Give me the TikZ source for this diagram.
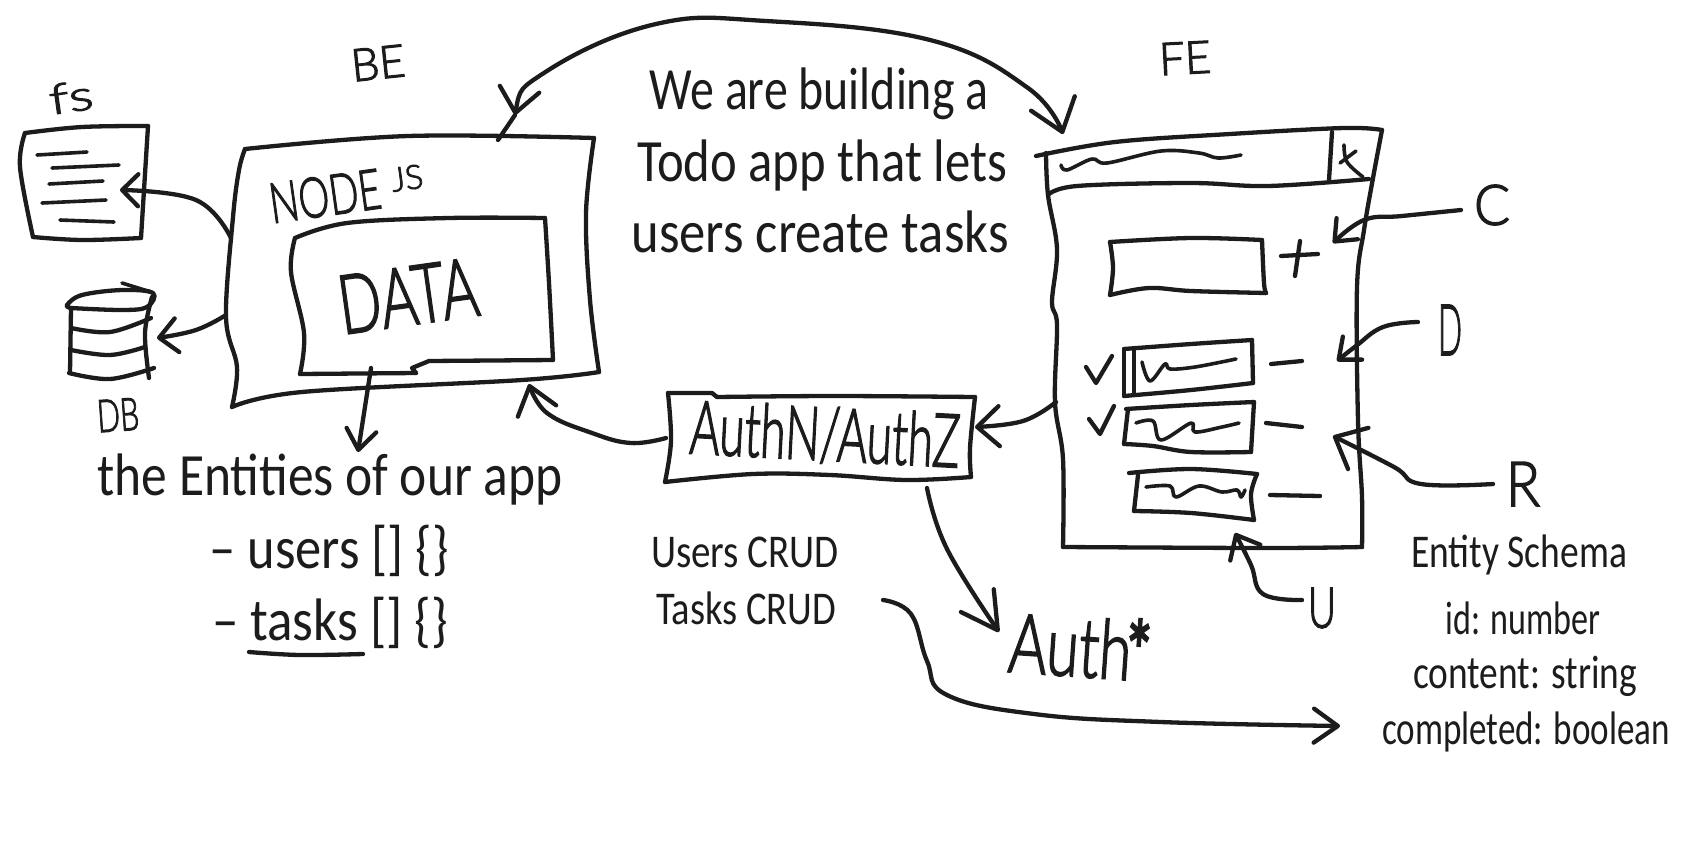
\documentclass[tikz,border=0pt]{standalone}
\usepackage{graphicx}
\usepackage{fontspec}
\setmainfont{Carlito}
\newfontfamily\handf{Lato}[UprightFont={* Light},FakeBold=2.4]
\usetikzlibrary{arrows.meta}
\definecolor{ink}{HTML}{1C1C1C}
\newcommand{\tw}[3]{\resizebox{#1pt}{\height}{\fontsize{#2}{#2}\selectfont #3}}
\newcommand{\hw}[3]{\resizebox{#1pt}{#2pt}{\handf\fontsize{60}{60}\selectfont #3}}
\tikzset{
  ink/.style={draw=ink,line width=4.3pt,line cap=round,line join=round},
  thinink/.style={draw=ink,line width=3.6pt,line cap=round,line join=round},
  conn/.style 2 args={ink,-{Straight Barb[length=#1pt,width=#2pt,round]}},
  twoway/.style={ink,{Straight Barb[length=24pt,width=40pt,round]}-{Straight Barb[length=30pt,width=46pt,round]}},
  typed/.style={text=ink,inner sep=0pt,anchor=base},
  hand/.style={text=ink,inner sep=0pt,anchor=center},
}
\begin{document}
\begin{tikzpicture}[x=1pt,y=-1pt]
\useasboundingbox (0,0) rectangle (1707,863);
\def\sm{plot[smooth,tension=.6] coordinates}
% ---- named connector ends
\coordinate (beTop) at (498,140);
\coordinate (arcL) at (515,115);
\coordinate (arcR) at (1063,134);
\coordinate (beLeftA) at (231,238);
\coordinate (fsTip) at (120,190);
\coordinate (beLeftB) at (226,315);
\coordinate (dbTip) at (157,338);
\coordinate (dataBot) at (371,368);
\coordinate (entTip) at (358,452);
\coordinate (feLeft) at (1056,402);
\coordinate (authR) at (975,427);
\coordinate (authL) at (666,438);
\coordinate (beBot) at (529,384);
\coordinate (authB) at (927,488);
\coordinate (authStarTip) at (999,632);
\coordinate (crudEnd) at (883,600);
\coordinate (schemaTip) at (1340,726);
\coordinate (cTail) at (1461,210);
\coordinate (cTip) at (1333,243);
\coordinate (dTail) at (1418,322);
\coordinate (dTip) at (1337,361);
\coordinate (rTail) at (1493,484);
\coordinate (rTip) at (1333,436);
\coordinate (uTail) at (1302,600);
\coordinate (uTip) at (1235,533);
% ---- BE box
\draw[ink] \sm{(245,149) (408,136) (594,138)};
\draw[ink] \sm{(594,138) (586,213) (590,300) (599,372)};
\draw[ink] \sm{(599,372) (522,380) (302,392) (232,407)};
\draw[ink] \sm{(232,407) (237,367) (226,317) (233,217) (239,170) (245,149)};
% DATA box
\draw[ink] \sm{(295,238) (347,223) (449,218) (545,218)};
\draw[ink] \sm{(545,218) (549,283) (553,360)};
\draw[ink] \sm{(553,360) (429,361)} -- (412,368) -- (416,373);
\draw[ink] \sm{(416,373) (300,374)};
\draw[ink] \sm{(300,374) (304,333) (291,272) (295,238)};
% FS doc
\draw[ink] \sm{(25,133) (82,127) (148,126)};
\draw[ink] \sm{(148,126) (141,238)};
\draw[ink] \sm{(141,238) (82,240) (33,237)};
\draw[ink] \sm{(33,237) (20,167) (25,133)};
\draw[thinink] (37,155) -- (87,152) (52,168) -- (119,165) (49,184) -- (103,181) (42,203) -- (106,200) (60,220) -- (114,222);
% DB
\draw[ink] \sm{(71,308) (67,305) (82,295) (122,290) (153,293) (147,307) (122,310) (71,308)};
\draw[thinink] (122,283) -- (151,292);
\draw[ink] (71,308) -- (70,373);
\draw[ink] \sm{(152,297) (145,333) (149,378)};
\draw[ink] \sm{(71,328) (110,332) (151,318)};
\draw[ink] \sm{(71,350) (110,355) (145,347)};
\draw[ink] \sm{(69,373) (110,379) (154,368)};
% FE window
\draw[ink] \sm{(1036,156) (1115,142) (1230,134) (1344,128) (1382,130)};
\draw[ink] \sm{(1382,130) (1373,178) (1364,230) (1357,287) (1358,421) (1362,497) (1362,547)};
\draw[ink] \sm{(1362,547) (1268,548) (1063,547)};
\draw[ink] \sm{(1063,547) (1063,459) (1055,402) (1057,325) (1052,302) (1057,249) (1048,195) (1046,153)};
\draw[ink] \sm{(1048,195) (1077,186) (1191,183) (1268,186) (1369,179)};
\draw[ink] (1332,132) -- (1329,180);
\draw[thinink] \sm{(1344,145) (1347,162) (1363,177)};
\draw[thinink] (1340,163) -- (1356,151);
\draw[thinink] \sm{(1061,165) (1067,170) (1092,159) (1107,163) (1161,151) (1199,153) (1218,158) (1241,155)};
% input
\draw[ink] \sm{(1110,242) (1191,238) (1262,240)};
\draw[ink] \sm{(1262,240) (1264,283) (1266,293)};
\draw[ink] \sm{(1266,293) (1191,291) (1149,288) (1110,295)};
\draw[ink] \sm{(1110,295) (1113,268) (1110,242)};
\draw[ink] (1281,256) -- (1318,254) (1300,241) -- (1295,276);
% task 1
\draw[ink] \sm{(1124,349) (1191,344) (1252,340)};
\draw[ink] (1252,340) -- (1253,383);
\draw[ink] \sm{(1253,383) (1191,390) (1124,396)};
\draw[ink] (1124,396) -- (1124,349);
\draw[ink] (1134,350) -- (1134,394);
\draw[thinink] \sm{(1142,362) (1150,381) (1165,364) (1170,369) (1195,367) (1236,359)};
\draw[ink] \sm{(1086,367) (1096,383)} -- (1112,356);
\draw[ink] (1271,364) -- (1302,361);
% task 2
\draw[ink] \sm{(1126,409) (1191,405) (1254,402)};
\draw[ink] (1254,402) -- (1251,452);
\draw[ink] \sm{(1251,452) (1191,452) (1153,446) (1124,444)};
\draw[ink] (1124,444) -- (1128,409);
\draw[thinink] \sm{(1136,423) (1153,421) (1161,440) (1191,423) (1195,432) (1222,427) (1239,423)};
\draw[ink] \sm{(1089,419) (1100,434)} -- (1114,406);
\draw[ink] (1266,423) -- (1302,427);
% task 3
\draw[ink] \sm{(1129,473) (1191,469) (1257,474)};
\draw[ink] \sm{(1257,474) (1251,494) (1254,520)};
\draw[ink] \sm{(1254,520) (1191,513) (1134,511)};
\draw[ink] (1134,511) -- (1138,475);
\draw[thinink] \sm{(1146,487) (1170,486) (1176,497) (1199,486) (1222,492) (1237,490) (1241,497) (1245,490)};
\draw[ink] (1270,495) -- (1320,496);
% Auth box
\draw[ink] (668,393) -- (712,393) -- (717,397);
\draw[ink] \sm{(717,397) (835,396) (975,397)};
\draw[ink] \sm{(975,397) (970,448) (971,477)};
\draw[ink] \sm{(971,477) (906,480) (830,475) (753,474) (665,482)};
\draw[ink] \sm{(665,482) (671,441) (668,393)};
% underline
\draw[ink] \sm{(249,652) (300,655) (363,654)};
% ---- text: typed
\node[typed] (t1) at (819,109) {\tw{339}{60}{We are building a}};
\node[typed] (t2) at (822,181) {\tw{370}{60}{Todo app that lets}};
\node[typed] (t3) at (820,252) {\tw{377}{60}{users create tasks}};
\node[typed] (ent1) at (330,495) {\tw{465}{60}{the Entities of our app}};
\node[typed] (ent2) at (329,568) {\tw{239}{60}{– users [] \{\}}};
\node[typed] (ent3) at (330,640) {\tw{236}{60}{– tasks [] \{\}}};
\node[typed] (crud1) at (745,567) {\tw{188}{47}{Users CRUD}};
\node[typed] (crud2) at (746,624) {\tw{180}{47}{Tasks CRUD}};
\node[typed] (sch1) at (1519,567) {\tw{216}{47}{Entity Schema}};
\node[typed] (sch2) at (1523,634) {\tw{155}{47}{id: number}};
\node[typed] (sch3) at (1525,688) {\tw{224}{47}{content: string}};
\node[typed] (sch4) at (1526,744) {\tw{288}{47}{completed: boolean}};
% ---- text: handwritten
\node[hand,rotate=8] (fs) at (71,97) {\hw{44}{30}{fs}};
\node[hand,rotate=6] (be) at (378,63) {\hw{54}{32}{BE}};
\node[hand,rotate=3] (fe) at (1185,58) {\hw{52}{32}{FE}};
\node[hand,rotate=8] (nodejs) at (325,196) {\hw{112}{40}{NODE}};
\node[hand,rotate=8] (js) at (407,178) {\hw{32}{24}{JS}};
\node[hand,rotate=8] (data) at (408,296) {\hw{140}{58}{DATA}};
\node[hand,rotate=4] (db) at (118,415) {\hw{42}{32}{DB}};
\node[hand] (lc) at (1492,205) {\hw{36}{40}{C}};
\node[hand] (ld) at (1450,330) {\hw{24}{50}{D}};
\node[hand] (lr) at (1523,484) {\hw{34}{44}{R}};
\node[hand] (lu) at (1322,608) {\hw{28}{40}{U}};
\node[hand,rotate=-3] (authz) at (825,435) {\hw{270}{54}{AuthN/AuthZ}};
\node[hand,rotate=-4] (auth) at (1080,646) {\hw{142}{62}{Auth\kern-6pt{\bfseries *}}};
% ---- connectors
\draw[ink] (beTop) -- (arcL);
\draw[twoway] plot[smooth,tension=.7] coordinates {(arcL) (547,71) (656,24) (766,21) (930,40) (1028,88) (arcR)};
\draw[conn={16}{32}] plot[smooth,tension=.7] coordinates {(beLeftA) (196,200) (fsTip)};
\draw[conn={18}{34}] plot[smooth,tension=.7] coordinates {(beLeftB) (196,330) (dbTip)};
\draw[conn={20}{30}] (dataBot) -- (entTip);
\draw[conn={22}{40}] plot[smooth,tension=.7] coordinates {(feLeft) (1023,421) (authR)};
\draw[conn={26}{40}] plot[smooth,tension=.7] coordinates {(authL) (631,443) (592,433) (547,413) (beBot)};
\draw[conn={36}{40}] plot[smooth,tension=.7] coordinates {(authB) (947,549) (authStarTip)};
\draw[conn={24}{34}] plot[smooth,tension=.7] coordinates {(crudEnd) (911,614) (927,661) (947,695) (1034,714) (1161,722) (schemaTip)};
\draw[conn={18}{30}] plot[smooth,tension=.7] coordinates {(cTail) (1402,216) (1364,220) (cTip)};
\draw[conn={18}{30}] plot[smooth,tension=.7] coordinates {(dTail) (1383,327) (1356,346) (dTip)};
\draw[conn={26}{46}] plot[smooth,tension=.7] coordinates {(rTail) (1421,484) (1394,467) (rTip)};
\draw[conn={20}{34}] plot[smooth,tension=.7] coordinates {(uTail) (1263,594) (1251,565) (uTip)};
\end{tikzpicture}
\end{document}
